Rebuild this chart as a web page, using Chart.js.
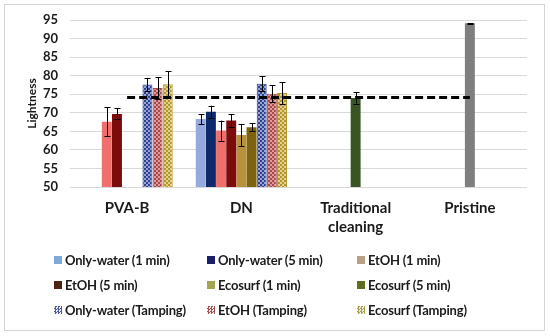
<!DOCTYPE html>
<html lang="en">
<head>
<meta charset="UTF-8">
<title>Lightness</title>
<script src="https://cdn.jsdelivr.net/npm/chart.js"></script>
<style>
  body { margin: 0; background: #fff; }
  #wrap { position: relative; width: 550px; height: 336px; overflow: hidden; }
  #frame { position: absolute; left: 4px; top: 4px; width: 539px; height: 325px; border: 1px solid #d4d4d4; }
  #chart { position: absolute; left: 0; top: 0; }
  #legend { position: absolute; left: 0; top: 0; width: 550px; height: 336px; font-family: Lato, sans-serif; font-weight: bold; font-size: 13px; color: #1a1a1a; }
  .item { position: absolute; white-space: nowrap; line-height: 16px; letter-spacing: -0.2px; }
  .item i { position: absolute; left: -11px; top: 4px; width: 8px; height: 8px; }
</style>
</head>
<body>
<div id="wrap">
  <div id="frame"></div>
  <canvas id="chart" width="550" height="336"></canvas>
  <div id="legend"></div>
</div>
<script>
const categories = ['PVA-B', 'DN', ['Traditional', 'cleaning'], 'Pristine'];
const seriesNames = [
  'Only-water (1 min)', 'Only-water (5 min)', 'EtOH (1 min)',
  'EtOH (5 min)', 'Ecosurf (1 min)', 'Ecosurf (5 min)',
  'Only-water (Tamping)', 'EtOH (Tamping)', 'Ecosurf (Tamping)'
];

// lightness values per series (PVA-B, DN, Traditional cleaning, Pristine)
const onlyWater1 = [null, 68.3, null, null];
const onlyWater5 = [null, 70.3, null, null];
const etoh1 = [67.6, 65.2, null, null];
const etoh5 = [69.7, 67.9, null, null];
const ecosurf1 = [null, 64.0, 74.0, 94.1];
const ecosurf5 = [null, 66.1, null, null];
const onlyWaterTamp = [77.6, 77.8, null, null];
const etohTamp = [76.7, 75.1, null, null];
const ecosurfTamp = [77.7, 75.3, null, null];
const reference = [74.1, 74.1, 74.1, 74.1];

// standard deviations
const onlyWater1Err = [null, 1.3, null, null];
const onlyWater5Err = [null, 1.6, null, null];
const etoh1Err = [3.9, 2.7, null, null];
const etoh5Err = [1.5, 1.7, null, null];
const ecosurf1Err = [null, 3.0, 1.5, 0.1];
const ecosurf5Err = [null, 1.1, null, null];
const onlyWaterTampErr = [1.8, 2.0, null, null];
const etohTampErr = [2.9, 2.3, null, null];
const ecosurfTampErr = [3.5, 2.9, null, null];

const yTicks = [50, 55, 60, 65, 70, 75, 80, 85, 90, 95];

let checker = (color, light) => {
    const c = document.createElement('canvas');
    c.width = 4; c.height = 4;
    const ctx = c.getContext('2d');
    ctx.fillStyle = light;
    ctx.fillRect(0, 0, 4, 4);
    ctx.fillStyle = color;
    ctx.fillRect(0, 0, 2, 2);
    ctx.fillRect(2, 2, 2, 2);
    return ctx.createPattern(c, 'repeat');
};

const barColors = [
    '#96a9dc', '#0f2a6b', '#ee6f6c', '#7c0c0c', '#b8923a', '#7e6210',
    checker('#2e418e', '#9aa5d6'), checker('#a84848', '#dc9c9c'), checker('#b09530', '#e4d28a')
];
const tampBorders = ['#2e418e', '#a84848', '#b09530'];
const legendColors = [
    '#7ea8da', '#1c1e6a', '#b9a086', '#4e2410', '#a6a552', '#5e6e1a',
    '#4a5aa0', '#a25050', '#a8a048'
];
const values = [onlyWater1, onlyWater5, etoh1, etoh5, ecosurf1, ecosurf5, onlyWaterTamp, etohTamp, ecosurfTamp];
const errors = [onlyWater1Err, onlyWater5Err, etoh1Err, etoh5Err, ecosurf1Err, ecosurf5Err, onlyWaterTampErr, etohTampErr, ecosurfTampErr];

const datasets = values.map((v, i) => ({
    type: 'bar',
    label: seriesNames[i],
    data: v,
    errors: errors[i],
    backgroundColor: i === 4 ? [barColors[4], barColors[4], '#3a5524', '#7f7f7f'] : barColors[i],
    borderColor: i >= 6 ? tampBorders[i - 6] : 'transparent',
    borderWidth: i >= 6 ? 1 : 0,
    order: 2,
    categoryPercentage: 0.8,
    barPercentage: 0.98
}));
datasets.push({
    type: 'line',
    label: 'reference',
    data: reference,
    borderColor: '#000',
    borderWidth: 3,
    borderDash: [8, 4],
    pointRadius: 0,
    fill: false,
    order: 0
});

const errorBars = {
    id: 'errorBars',
    afterDatasetsDraw(chart) {
        const ctx = chart.ctx;
        const y = chart.scales.y;
        ctx.save();
        ctx.strokeStyle = '#000';
        ctx.lineWidth = 1;
        chart.data.datasets.forEach((ds, i) => {
            if (!ds.errors) return;
            chart.getDatasetMeta(i).data.forEach((bar, j) => {
                const v = ds.data[j], e = ds.errors[j];
                if (v == null || e == null) return;
                const top = y.getPixelForValue(v + e);
                const bot = y.getPixelForValue(v - e);
                const x = Math.round(bar.x) + 0.5;
                ctx.beginPath();
                ctx.moveTo(x, top); ctx.lineTo(x, bot);
                ctx.moveTo(x - 3, Math.round(top) + 0.5); ctx.lineTo(x + 3, Math.round(top) + 0.5);
                ctx.moveTo(x - 3, Math.round(bot) + 0.5); ctx.lineTo(x + 3, Math.round(bot) + 0.5);
                ctx.stroke();
            });
        });
        ctx.restore();
    }
};

const chart = new Chart(document.getElementById('chart'), {
    data: { labels: categories, datasets: datasets },
    options: {
        responsive: false,
        animation: false,
        layout: { padding: { left: 0, right: 23, top: 20, bottom: 89 } },
        plugins: { legend: { display: false }, tooltip: { enabled: false } },
        scales: {
            x: {
                grid: { display: false },
                border: { display: false },
                ticks: { color: '#1a1a1a', font: { family: 'Lato', weight: 'bold', size: 15, lineHeight: 1.3 }, padding: 3, maxRotation: 0, autoSkip: false },
                afterFit: s => { s.height = 60; }
            },
            y: {
                min: 50, max: 95,
                afterBuildTicks: s => { s.ticks = yTicks.map(v => ({ value: v })); },
                grid: { color: '#d9d9d9', drawTicks: false },
                border: { display: false },
                ticks: { color: '#1a1a1a', font: { family: 'Lato', weight: 'bold', size: 13 }, padding: 12, autoSkip: false },
                title: { display: true, text: 'Lightness', color: '#1a1a1a', font: { family: 'Lato', weight: 'bold', size: 12 }, padding: { top: 25, bottom: 0 } },
                afterFit: s => { s.width = 70; }
            }
        }
    },
    plugins: [errorBars]
});

// legend laid out as a 3-column grid
const legend = document.getElementById('legend');
const colX = [65, 218, 368];
const rowY = [252, 277, 302];
seriesNames.forEach((name, i) => {
    const el = document.createElement('div');
    el.className = 'item';
    el.style.left = colX[i % 3] + 'px';
    el.style.top = rowY[Math.floor(i / 3)] + 'px';
    const sw = document.createElement('i');
    sw.style.background = legendColors[i];
    if (i >= 6) sw.style.backgroundImage = 'repeating-conic-gradient(' + legendColors[i] + ' 0 25%, #eee 0 50%)', sw.style.backgroundSize = '3px 3px';
    el.appendChild(sw);
    el.appendChild(document.createTextNode(name));
    legend.appendChild(el);
});
</script>
</body>
</html>
